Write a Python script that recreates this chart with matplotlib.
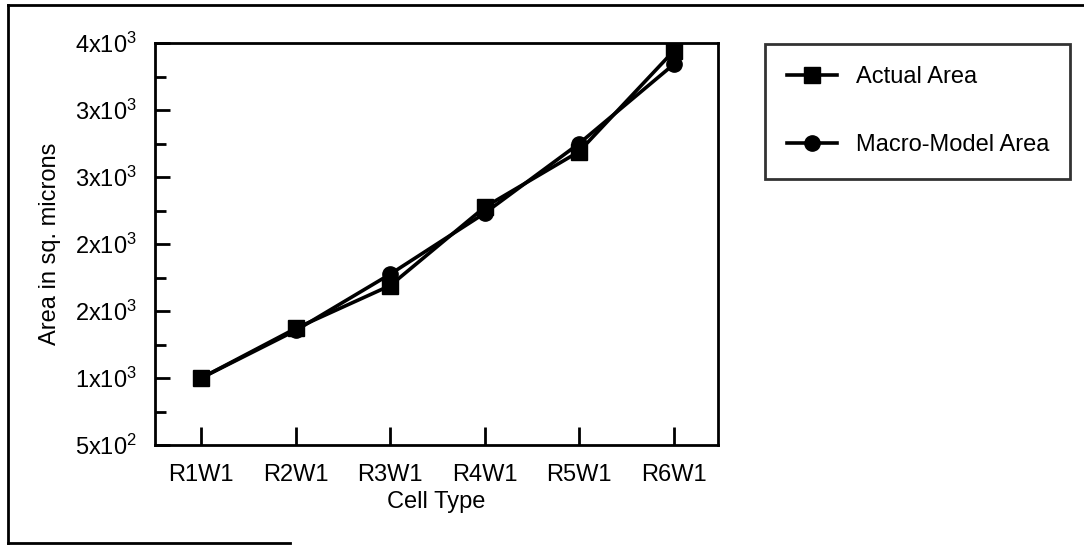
import matplotlib.pyplot as plt
from matplotlib.lines import Line2D

plt.rcParams['font.family'] = ['Liberation Sans', 'DejaVu Sans']
plt.rcParams['mathtext.fontset'] = 'custom'
plt.rcParams['mathtext.rm'] = 'Liberation Sans'
plt.rcParams['mathtext.it'] = 'Liberation Sans'

cell_types = ["R1W1", "R2W1", "R3W1", "R4W1", "R5W1", "R6W1"]
actual_area = [1000, 1370, 1690, 2275, 2690, 3440]
macro_area = [1000, 1355, 1775, 2230, 2750, 3340]

y_ticks = [500, 1000, 1500, 2000, 2500, 3000, 3500]
y_labels = ["5x10$^2$", "1x10$^3$", "2x10$^3$", "2x10$^3$",
            "3x10$^3$", "3x10$^3$", "4x10$^3$"]
y_minor = [750, 1250, 1750, 2250, 2750, 3250]

FS = 17
W, H = 1084, 546
fig = plt.figure(figsize=(W / 100, H / 100), dpi=100)
ax = fig.add_axes([155 / W, 1 - 445 / H, (718 - 155) / W, (445 - 43) / H])

x = list(range(len(cell_types)))
ax.plot(x, actual_area, color='black', lw=2.6, marker='s', ms=11,
        label="Actual Area")
ax.plot(x, macro_area, color='black', lw=2.6, marker='o', ms=11,
        label="Macro-Model Area")

ax.set_xlim(-0.49, 5.47)
ax.set_ylim(500, 3500)
ax.set_xticks(x)
ax.set_xticklabels(cell_types, fontsize=FS)
ax.set_yticks(y_ticks)
ax.set_yticklabels(y_labels, fontsize=FS)
ax.set_yticks(y_minor, minor=True)

ax.tick_params(axis='both', which='both', direction='in', width=2,
               top=False, right=False)
ax.tick_params(axis='y', which='major', length=11, pad=13)
ax.tick_params(axis='y', which='minor', length=8)
ax.tick_params(axis='x', which='major', length=13, pad=14)
ax.tick_params(axis='x', which='minor', bottom=False)
for s in ax.spines.values():
    s.set_linewidth(2)

ax.set_xlabel("Cell Type", fontsize=FS, labelpad=3)
ax.set_ylabel("Area in sq. microns", fontsize=FS, labelpad=10)

leg = fig.legend(loc='upper left', bbox_to_anchor=(765 / W, 1 - 183 / H, 305 / W, 139 / H),
                 mode='expand', fontsize=FS, frameon=True, fancybox=False,
                 edgecolor='black', borderpad=0.95, labelspacing=1.95,
                 handlelength=2.1, handletextpad=0.8, borderaxespad=0)
leg.get_frame().set_linewidth(2)

# outer frame of the scanned figure
frame = dict(color='black', lw=2, transform=fig.transFigure)
fig.add_artist(Line2D([8 / W, 8 / W], [1 - 5 / H, 1 - 543 / H], **frame))
fig.add_artist(Line2D([8 / W, 1], [1 - 5 / H, 1 - 5 / H], **frame))
fig.add_artist(Line2D([8 / W, 290 / W], [1 - 543 / H, 1 - 543 / H], **frame))

fig.savefig("out.png", dpi=100)
